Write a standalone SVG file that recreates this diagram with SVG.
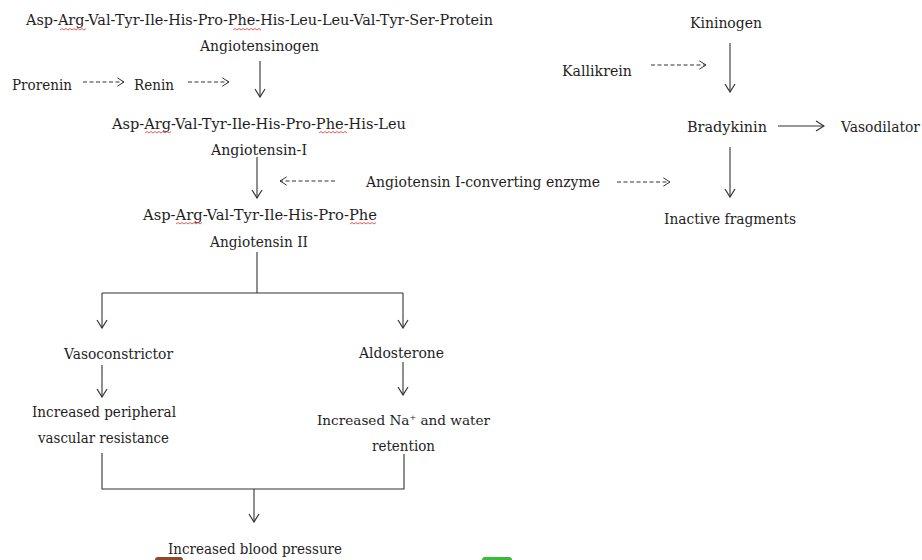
<svg xmlns="http://www.w3.org/2000/svg" width="922" height="560" viewBox="0 0 922 560">
<defs>
<marker id="v" viewBox="0 0 10 12" refX="9" refY="6" markerWidth="10" markerHeight="12" markerUnits="userSpaceOnUse" orient="auto">
<path d="M1,1 L9,6 L1,11" fill="none" stroke="#333" stroke-width="1.2"/>
</marker>
<marker id="vd" viewBox="0 0 10 12" refX="9" refY="6" markerWidth="9" markerHeight="10" markerUnits="userSpaceOnUse" orient="auto">
<path d="M1,1 L9,6 L1,11" fill="none" stroke="#333" stroke-width="1.2"/>
</marker>
</defs>
<style>
text{font-family:"DejaVu Serif","Liberation Serif",serif;font-size:14px;fill:#1e1e1e}
.sup{font-size:8px}
.na{font-size:13.6px}
.ln{fill:none;stroke:#333;stroke-width:1.1}
.ar{fill:none;stroke:#333;stroke-width:1.1;marker-end:url(#v)}
.da{fill:none;stroke:#333;stroke-width:1.1;stroke-dasharray:4 2.5;marker-end:url(#vd)}
.sq{fill:none;stroke:#e03030;stroke-width:0.8}
</style>
<rect width="922" height="560" fill="#fff"/>

<g id="angiotensinogen">
<text x="26" y="25" textLength="467" lengthAdjust="spacingAndGlyphs">Asp-Arg-Val-Tyr-Ile-His-Pro-Phe-His-Leu-Leu-Val-Tyr-Ser-Protein</text>
<text x="200" y="51" textLength="119" lengthAdjust="spacingAndGlyphs">Angiotensinogen</text>
<path class="sq" d="M60,30 l2,-1.5 l2,1.5 l2,-1.5 l2,1.5 l2,-1.5 l2,1.5 l2,-1.5 l2,1.5 l2,-1.5 l2,1.5 l2,-1.5 l2,1.5 l2,-1.5"/>
<path class="sq" d="M233,30 l2,-1.5 l2,1.5 l2,-1.5 l2,1.5 l2,-1.5 l2,1.5 l2,-1.5 l2,1.5 l2,-1.5 l2,1.5 l2,-1.5 l2,1.5 l2,-1.5 l2,1.5"/>
</g>
<g id="prorenin"><text x="12" y="90" textLength="60" lengthAdjust="spacingAndGlyphs">Prorenin</text></g>
<g id="renin"><text x="134" y="90" textLength="40" lengthAdjust="spacingAndGlyphs">Renin</text></g>

<g id="angiotensin1">
<text x="112" y="129" textLength="294" lengthAdjust="spacingAndGlyphs">Asp-Arg-Val-Tyr-Ile-His-Pro-Phe-His-Leu</text>
<text x="211" y="155" textLength="96" lengthAdjust="spacingAndGlyphs">Angiotensin-I</text>
<path class="sq" d="M145,133 l2,-1.5 l2,1.5 l2,-1.5 l2,1.5 l2,-1.5 l2,1.5 l2,-1.5 l2,1.5 l2,-1.5 l2,1.5 l2,-1.5 l2,1.5 l2,-1.5"/>
<path class="sq" d="M319,133 l2,-1.5 l2,1.5 l2,-1.5 l2,1.5 l2,-1.5 l2,1.5 l2,-1.5 l2,1.5 l2,-1.5 l2,1.5 l2,-1.5 l2,1.5 l2,-1.5 l2,1.5"/>
</g>
<g id="ace"><text x="366" y="187" textLength="234" lengthAdjust="spacingAndGlyphs">Angiotensin I-converting enzyme</text></g>

<g id="angiotensin2">
<text x="143" y="220" textLength="234" lengthAdjust="spacingAndGlyphs">Asp-Arg-Val-Tyr-Ile-His-Pro-Phe</text>
<text x="210" y="247" textLength="98" lengthAdjust="spacingAndGlyphs">Angiotensin II</text>
<path class="sq" d="M176,224 l2,-1.5 l2,1.5 l2,-1.5 l2,1.5 l2,-1.5 l2,1.5 l2,-1.5 l2,1.5 l2,-1.5 l2,1.5 l2,-1.5 l2,1.5 l2,-1.5"/>
<path class="sq" d="M350,224 l2,-1.5 l2,1.5 l2,-1.5 l2,1.5 l2,-1.5 l2,1.5 l2,-1.5 l2,1.5 l2,-1.5 l2,1.5 l2,-1.5 l2,1.5 l2,-1.5"/>
</g>

<g id="kininogen"><text x="690" y="28" textLength="72" lengthAdjust="spacingAndGlyphs">Kininogen</text></g>
<g id="kallikrein"><text x="562" y="76" textLength="70" lengthAdjust="spacingAndGlyphs">Kallikrein</text></g>
<g id="bradykinin"><text x="687" y="132" textLength="80" lengthAdjust="spacingAndGlyphs">Bradykinin</text></g>
<g id="vasodilator"><text x="841" y="132" textLength="79" lengthAdjust="spacingAndGlyphs">Vasodilator</text></g>
<g id="inactive"><text x="664" y="224" textLength="132" lengthAdjust="spacingAndGlyphs">Inactive fragments</text></g>

<g id="vasoconstrictor"><text x="64" y="359" textLength="109" lengthAdjust="spacingAndGlyphs">Vasoconstrictor</text></g>
<g id="aldosterone"><text x="359" y="358" textLength="85" lengthAdjust="spacingAndGlyphs">Aldosterone</text></g>
<g id="resistance">
<text x="32" y="417" textLength="144" lengthAdjust="spacingAndGlyphs">Increased peripheral</text>
<text x="38" y="443" textLength="131" lengthAdjust="spacingAndGlyphs">vascular resistance</text>
</g>
<g id="retention">
<text class="na" x="317" y="425">Increased Na<tspan class="sup" dy="-5">+</tspan><tspan dy="5"> and water</tspan></text>
<text x="372" y="451" textLength="63" lengthAdjust="spacingAndGlyphs">retention</text>
</g>
<g id="bp"><text x="168" y="554" textLength="174" lengthAdjust="spacingAndGlyphs">Increased blood pressure</text></g>

<g id="connectors">
<line class="ar" x1="260" y1="61" x2="260" y2="97"/>
<line class="da" x1="83" y1="82" x2="124" y2="82"/>
<line class="da" x1="188" y1="82" x2="229" y2="82"/>
<line class="ar" x1="257" y1="157" x2="257" y2="198"/>
<line class="da" x1="335" y1="181" x2="280" y2="181"/>
<line class="da" x1="617" y1="182" x2="670" y2="182"/>
<line class="ar" x1="730" y1="43" x2="730" y2="92"/>
<line class="da" x1="651" y1="65" x2="706" y2="65"/>
<line class="ar" x1="778" y1="126" x2="824" y2="126"/>
<line class="ar" x1="730" y1="147" x2="730" y2="197"/>
<path class="ln" d="M257,252 V293 M102,293 H403"/>
<line class="ar" x1="102" y1="293" x2="102" y2="328"/>
<line class="ar" x1="403" y1="293" x2="403" y2="328"/>
<line class="ar" x1="102" y1="365" x2="102" y2="397"/>
<line class="ar" x1="403" y1="362" x2="403" y2="395"/>
<path class="ln" d="M102,453 V489 H404 V454"/>
<line class="ar" x1="254" y1="489" x2="254" y2="522"/>
</g>

<rect x="155" y="557" width="28" height="8" rx="3" fill="#8b4a2b"/>
<rect x="482" y="557" width="30" height="8" rx="3" fill="#3cb83c"/>
</svg>
